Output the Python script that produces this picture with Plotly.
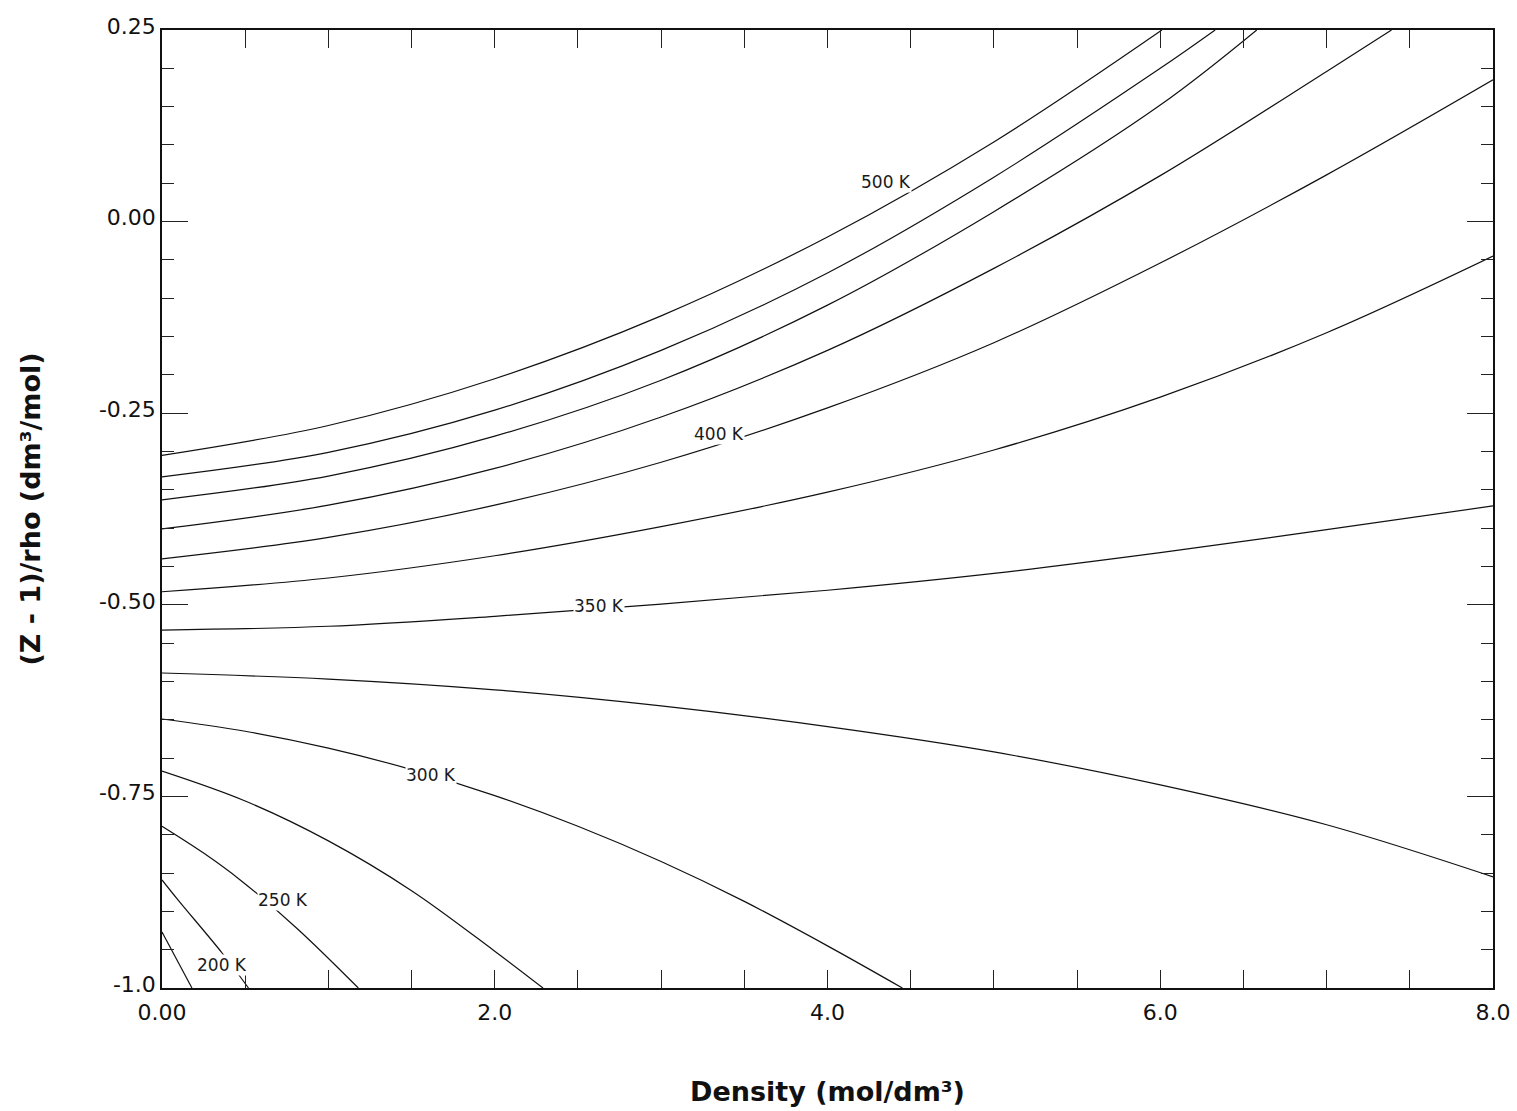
import plotly.graph_objects as go

# Isotherms of (Z - 1)/rho versus density; each curve sampled at a few densities
temperatures = [500, 475, 450, 425, 400, 375, 350, 325, 300, 275, 250, 200, 150]

density = {
    500: [0, 1, 2, 3, 4, 5, 6.01],
    475: [0, 1, 2, 3, 4, 5, 6, 6.33],
    450: [0, 1, 2, 3, 4, 5, 6, 6.58],
    425: [0, 1, 2, 3, 4, 5, 6, 7, 7.39],
    400: [0, 1, 2, 3, 4, 5, 6, 7, 8],
    375: [0, 1, 2, 3, 4, 5, 6, 7, 8],
    350: [0, 1, 2, 3, 4, 5, 6, 7, 8],
    325: [0, 1, 2, 3, 4, 5, 6, 7, 8],
    300: [0, 0.5, 1, 1.5, 2, 2.5, 3, 3.5, 4, 4.45],
    275: [0, 0.5, 1, 1.5, 2, 2.29],
    250: [0, 0.25, 0.47, 0.81, 1.18],
    200: [0, 0.096, 0.36, 0.52],
    150: [0, 0.18],
}

z_minus_1_over_rho = {
    500: [-0.305, -0.266, -0.205, -0.123, -0.020, 0.104, 0.25],
    475: [-0.333, -0.301, -0.246, -0.168, -0.067, 0.058, 0.200, 0.25],
    450: [-0.363, -0.332, -0.280, -0.207, -0.109, 0.013, 0.152, 0.25],
    425: [-0.401, -0.370, -0.322, -0.255, -0.168, -0.061, 0.060, 0.196, 0.25],
    400: [-0.440, -0.412, -0.370, -0.314, -0.243, -0.158, -0.054, 0.061, 0.185],
    375: [-0.483, -0.465, -0.436, -0.398, -0.353, -0.298, -0.229, -0.145, -0.045],
    350: [-0.533, -0.528, -0.515, -0.499, -0.481, -0.459, -0.432, -0.402, -0.371],
    325: [-0.589, -0.597, -0.611, -0.632, -0.659, -0.692, -0.735, -0.787, -0.855],
    300: [-0.649, -0.665, -0.687, -0.715, -0.749, -0.789, -0.835, -0.887, -0.945, -1.0],
    275: [-0.717, -0.756, -0.808, -0.873, -0.952, -1.0],
    250: [-0.789, -0.824, -0.859, -0.922, -1.0],
    200: [-0.859, -0.885, -0.954, -1.0],
    150: [-0.927, -1.0],
}

# Inline isotherm labels: text, density, value
label_text = ["500 K", "400 K", "350 K", "300 K", "250 K", "200 K"]
label_x = [4.351, 3.347, 2.626, 1.617, 0.727, 0.361]
label_y = [0.052, -0.277, -0.502, -0.722, -0.885, -0.970]

x_tick_vals = [0, 2, 4, 6, 8]
x_tick_text = ["0.00", "2.0", "4.0", "6.0", "8.0"]
y_tick_vals = [0.25, 0.0, -0.25, -0.5, -0.75, -1.0]
y_tick_text = ["0.25", "0.00", "-0.25", "-0.50", "-0.75", "-1.0"]

fig = go.Figure()

for t in temperatures:
    fig.add_trace(go.Scatter(
        x=density[t],
        y=z_minus_1_over_rho[t],
        mode="lines",
        name=f"{t} K",
        line=dict(color="#111111", width=1.2, shape="spline", smoothing=1.0),
        hoverinfo="skip",
        showlegend=False,
    ))

for txt, lx, ly in zip(label_text, label_x, label_y):
    fig.add_annotation(
        x=lx, y=ly, text=txt, showarrow=False,
        font=dict(family="DejaVu Sans", size=17, color="#1a1a1a"),
        bgcolor="white", borderpad=0,
    )

axis_common = dict(
    showline=True, linecolor="#111111", linewidth=1.5,
    mirror="allticks", ticks="inside", tickcolor="#222222", tickwidth=1.3,
    showgrid=False, zeroline=False, automargin=False,
    tickfont=dict(family="DejaVu Sans", size=22, color="#111111"),
)

fig.update_xaxes(
    range=[0, 8],
    tickmode="array", tickvals=x_tick_vals, ticktext=x_tick_text,
    ticklen=18,
    ticklabelstandoff=4,
    minor=dict(tickmode="linear", tick0=0, dtick=0.5, ticks="inside", ticklen=18,
               tickcolor="#222222", tickwidth=1.3),
    title=dict(text="<b>Density (mol/dm³)</b>",
               font=dict(family="DejaVu Sans", size=27, color="#111111"),
               standoff=58),
    **axis_common,
)

fig.update_yaxes(
    range=[-1.0, 0.25],
    tickmode="array", tickvals=y_tick_vals, ticktext=y_tick_text,
    ticklen=26,
    ticklabelshift=-4,
    minor=dict(tickmode="linear", tick0=0, dtick=0.05, ticks="inside", ticklen=12,
               tickcolor="#222222", tickwidth=1.3),
    title=dict(text="<b>(Z - 1)/rho (dm³/mol)</b>",
               font=dict(family="DejaVu Sans", size=27, color="#111111"),
               standoff=50),
    **axis_common,
)

fig.update_layout(
    width=1517, height=1111,
    margin=dict(l=162, r=24, t=30, b=123),
    paper_bgcolor="white", plot_bgcolor="white",
)

fig.write_html("out.html")
